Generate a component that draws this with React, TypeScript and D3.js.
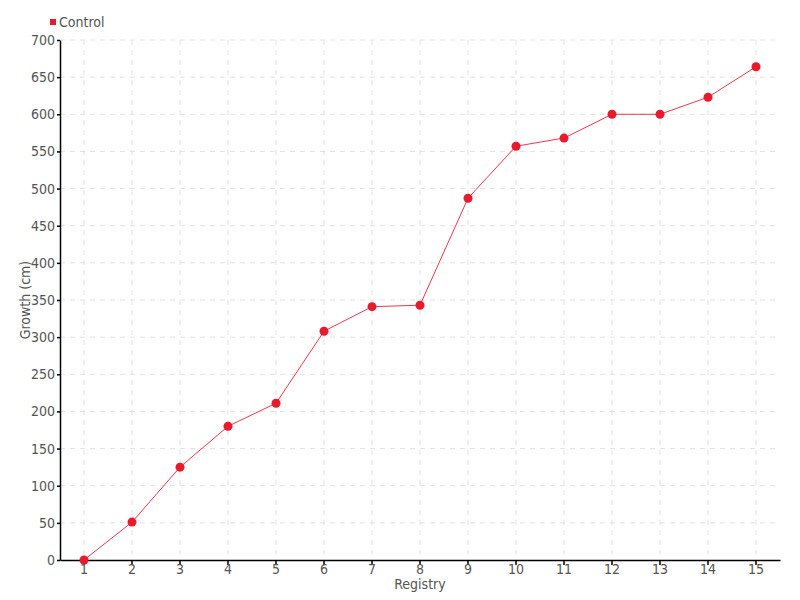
import React, { useEffect, useRef } from 'react';
import * as d3 from 'd3';

const registries: string[] = ['1', '2', '3', '4', '5', '6', '7', '8', '9', '10', '11', '12', '13', '14', '15'];
const controlValues: number[] = [0, 51, 125, 180, 211, 308, 341, 343, 487, 557, 568, 600, 600, 623, 664];
const yTicks: number[] = [0, 50, 100, 150, 200, 250, 300, 350, 400, 450, 500, 550, 600, 650, 700];

const FONT = '"DejaVu Sans Condensed", "Liberation Sans Narrow", sans-serif';

export default function App() {
  const ref = useRef<SVGSVGElement>(null);

  useEffect(() => {
    if (!ref.current) return;
    const root = d3.select(ref.current);
    root.selectAll('*').remove();

    const margin = { top: 40, right: 20, bottom: 40, left: 60 };
    const width = 800 - margin.left - margin.right;
    const height = 600 - margin.top - margin.bottom;

    const g = root.append('g').attr('transform', `translate(${margin.left},${margin.top})`);

    const x = d3.scaleBand().domain(registries).range([0, width]);
    const y = d3.scaleLinear().domain([0, 700]).range([height, 0]);
    const cx = (d: string) => (x(d) ?? 0) + x.bandwidth() / 2;

    // grid
    g.append('g')
      .selectAll('line.h')
      .data(yTicks.slice(1))
      .enter().append('line')
      .attr('x1', 0).attr('x2', width)
      .attr('y1', d => y(d)).attr('y2', d => y(d))
      .attr('stroke', '#e3e3e3')
      .attr('stroke-dasharray', '5,5');
    g.append('g')
      .selectAll('line.v')
      .data(registries)
      .enter().append('line')
      .attr('x1', d => cx(d)).attr('x2', d => cx(d))
      .attr('y1', 0).attr('y2', height)
      .attr('stroke', '#e3e3e3')
      .attr('stroke-dasharray', '5,5');

    // axes
    const xAxis = g.append('g')
      .attr('transform', `translate(0,${height})`)
      .call(d3.axisBottom(x).tickSize(5).tickSizeOuter(0));
    const yAxis = g.append('g')
      .call(d3.axisLeft(y).tickValues(yTicks).tickSize(3).tickSizeOuter(0));

    [xAxis, yAxis].forEach(a => {
      a.select('.domain').attr('stroke', '#000').attr('stroke-width', 1.5);
      a.selectAll('.tick line').attr('stroke', '#000').attr('stroke-width', 1.5);
      a.selectAll('.tick text')
        .attr('fill', '#555')
        .style('font-family', FONT)
        .style('font-size', '14px');
    });
    yAxis.selectAll('.tick text').attr('x', -5);
    xAxis.selectAll('.tick text').attr('y', 4);

    // line
    const line = d3.line<number>()
      .x((_, i) => cx(registries[i]))
      .y(d => y(d));
    g.append('path')
      .datum(controlValues)
      .attr('fill', 'none')
      .attr('stroke', '#f5364a')
      .attr('stroke-width', 1)
      .attr('d', line);

    g.selectAll('circle.pt')
      .data(controlValues)
      .enter().append('circle')
      .attr('cx', (_, i) => cx(registries[i]))
      .attr('cy', d => y(d))
      .attr('r', 4.5)
      .attr('fill', '#e81a2b');

    // axis labels
    root.append('text')
      .attr('x', margin.left + width / 2)
      .attr('y', 589)
      .attr('text-anchor', 'middle')
      .attr('fill', '#555')
      .style('font-family', FONT)
      .style('font-size', '14px')
      .text('Registry');
    root.append('text')
      .attr('transform', `translate(30,${margin.top + height / 2}) rotate(-90)`)
      .attr('text-anchor', 'middle')
      .attr('fill', '#555')
      .style('font-family', FONT)
      .style('font-size', '14px')
      .text('Growth (cm)');

    // legend
    root.append('rect')
      .attr('x', 50).attr('y', 19)
      .attr('width', 6).attr('height', 6)
      .attr('fill', '#e81a2b');
    root.append('text')
      .attr('x', 59).attr('y', 27)
      .attr('fill', '#555')
      .style('font-family', FONT)
      .style('font-size', '14px')
      .text('Control');
  }, []);

  return (
    <div style={{ position: 'absolute', left: 0, top: 0 }}>
      <svg ref={ref} width={800} height={600} style={{ display: 'block', background: '#fff' }} />
    </div>
  );
}
